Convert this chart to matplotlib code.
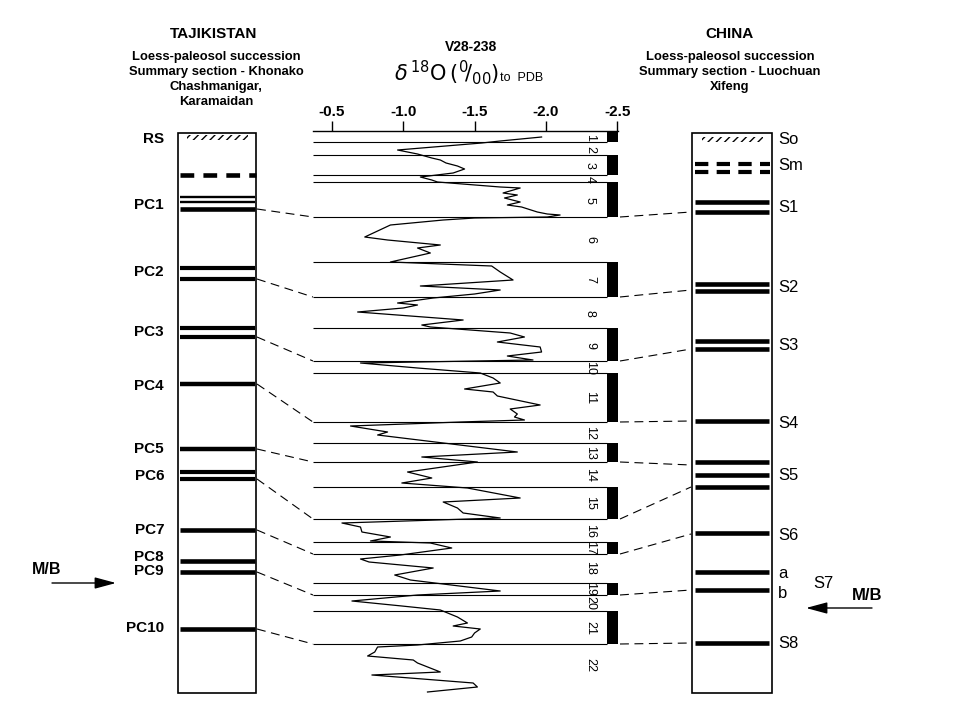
import matplotlib
matplotlib.use('Agg')
import matplotlib.pyplot as plt
from matplotlib.patches import Rectangle

plt.rcParams['font.family'] = ['Liberation Sans', 'DejaVu Sans']
plt.rcParams['hatch.linewidth'] = 1.0

# V28-238 oxygen isotope record (depth in chart units, delta 18O per mil)
d18o_depth = [137, 141, 143, 150, 154, 158, 160, 163, 166, 169, 173, 177, 180, 182,
              187, 188, 193, 195, 198, 202, 205, 207, 212, 214, 215, 217, 218, 220,
              225, 237, 240, 245, 248, 253, 262, 266, 272, 280, 286, 290, 294, 298,
              303, 305, 308, 312, 320, 325, 327, 333, 337, 342, 347, 352, 356, 360,
              363, 368, 373, 378, 383, 389, 392, 396, 405, 409, 414, 417, 420, 422,
              426, 432, 435, 452, 457, 462, 472, 478, 483, 488, 498, 502, 508, 513,
              518, 523, 527, 532, 537, 541, 543, 548, 555, 559, 562, 568, 575, 580,
              591, 595, 601, 606, 610, 617, 623, 626, 629, 633, 637, 641, 645, 647,
              652, 656, 660, 663, 672, 675, 683, 687, 692]
d18o_value = [-1.97, -1.68, -1.55, -0.96, -1.10, -1.20, -1.26, -1.30, -1.38, -1.43, -1.35, -1.12, -1.20, -1.24,
              -1.68, -1.82, -1.70, -1.80, -1.71, -1.82, -1.73, -1.83, -1.94, -2.01, -2.10, -2.01, -1.50, -1.28,
              -0.91, -0.73, -0.89, -1.26, -1.10, -1.19, -0.91, -1.62, -1.68, -1.77, -1.12, -1.68, -1.50, -1.21,
              -0.96, -1.10, -1.00, -0.68, -1.42, -1.13, -1.19, -1.75, -1.85, -1.66, -1.96, -1.97, -1.73, -1.91,
              -0.70, -1.10, -1.54, -1.63, -1.68, -1.43, -1.63, -1.66, -1.96, -1.75, -1.80, -1.78, -1.85, -1.40,
              -0.63, -0.89, -0.82, -1.80, -1.13, -1.52, -1.03, -1.20, -0.99, -1.45, -1.82, -1.28, -1.38, -1.42,
              -1.68, -0.57, -0.70, -0.71, -0.91, -0.77, -1.19, -1.34, -0.98, -0.70, -0.76, -1.21, -0.94, -1.05,
              -1.68, -1.10, -0.64, -0.99, -1.26, -1.38, -1.45, -1.35, -1.54, -1.50, -1.48, -1.40, -1.10, -0.82,
              -0.80, -0.75, -1.07, -1.10, -1.26, -0.78, -1.49, -1.52, -1.17]

# marine isotope stages
stage_bounds = [142, 155, 175, 182, 217, 262, 297, 328, 361, 373, 422,
                443, 462, 487, 519, 542, 554, 583, 595, 611, 644]
stage_names = [str(i) for i in range(1, 23)]
stage_label_depth = [137, 149, 165, 179, 200, 240, 280, 313, 345, 368, 398,
                     433, 453, 475, 503, 531, 548, 568, 589, 603, 628, 665]
warm_top = [132, 155, 182, 262, 328, 373, 443, 487, 542, 583, 611]
warm_bottom = [142, 175, 217, 297, 361, 422, 462, 519, 554, 595, 644]

# Tajikistan section
tj_labels = ['RS', 'PC1', 'PC2', 'PC3', 'PC4', 'PC5', 'PC6', 'PC7', 'PC8', 'PC9', 'PC10']
tj_label_depth = [139, 205, 272, 332, 386, 449, 476, 530, 557, 571, 628]
tj_soils = [197, 202, 209, 268, 279, 328, 337, 384, 449, 472, 479, 530, 561, 572, 629]
tj_soil_lw = [1.7, 1.7, 3.3, 3.0, 3.0, 3.0, 3.0, 3.2, 3.2, 3.0, 3.0, 3.3, 3.3, 3.3, 3.3]
tj_weak_soil = 175
tj_links = [(209, 217), (279, 297), (337, 361), (384, 422), (449, 462),
            (479, 519), (530, 554), (572, 595), (629, 644)]

# China section
cn_labels = ['So', 'Sm', 'S1', 'S2', 'S3', 'S4', 'S5', 'S6', 'a', 'b', 'S8']
cn_label_depth = [140, 165, 208, 287, 345, 423, 476, 535, 573, 593, 643]
cn_soils = [202, 212, 284, 291, 341, 349, 421, 462, 475, 487, 533, 572, 590, 643]
cn_weak_soils = [164, 172]
cn_links = [(217, 212), (297, 290), (361, 349), (422, 421), (462, 465),
            (519, 487), (554, 534), (595, 590), (644, 643)]

fig = plt.figure(figsize=(9.6, 7.2), dpi=100)
ax = fig.add_axes([0, 0, 1, 1])
ax.set_xlim(0, 960)
ax.set_ylim(720, 0)
ax.axis('off')

# titles
ax.text(214, 34, 'TAJIKISTAN', ha='center', va='center', fontsize=11, fontweight='bold')
ax.text(216, 51, 'Loess-paleosol succession\nSummary section - Khonako\nChashmanigar,\nKaramaidan',
        ha='center', va='top', fontsize=9.4, fontweight='bold', linespacing=1.35)
ax.text(730, 34, 'CHINA', ha='center', va='center', fontsize=11, fontweight='bold')
ax.text(730, 51, 'Loess-paleosol succession\nSummary section - Luochuan\nXifeng',
        ha='center', va='top', fontsize=9.4, fontweight='bold', linespacing=1.35)
ax.text(471, 47, 'V28-238', ha='center', va='center', fontsize=10, fontweight='bold')
ax.text(394, 81, r'$\delta^{\,18}\mathrm{O}\,(^{0}\!/_{00})$', ha='left', va='baseline', fontsize=15)
ax.text(500, 81, 'to  PDB', ha='left', va='baseline', fontsize=9)

# columns
for x0, w in [(178, 78), (692, 80)]:
    ax.add_patch(Rectangle((x0, 133), w, 560, fill=False, lw=1.2, ec='black'))
ax.add_patch(Rectangle((187, 135), 61, 5, fill=False, lw=0, ec='black', hatch='////'))
ax.add_patch(Rectangle((702, 137), 61, 5, fill=False, lw=0, ec='black', hatch='////'))

ax.hlines(tj_soils, 180, 255, colors='black', linewidths=tj_soil_lw)
ax.hlines(tj_weak_soil, 180, 256, colors='black', linewidths=3.3, linestyles=(0, (3.0, 2.0)))
ax.hlines(cn_soils, 695, 769, colors='black', linewidths=3.3)
ax.hlines(cn_weak_soils, 695, 770, colors='black', linewidths=3.0, linestyles=(0, (3.2, 2.0)))

for lab, y in zip(tj_labels, tj_label_depth):
    ax.text(164, y, lab, ha='right', va='center', fontsize=11, fontweight='bold')
for lab, y in zip(cn_labels, cn_label_depth):
    ax.text(778, y, lab, ha='left', va='center', fontsize=12)
ax.text(823, 583, 'S7', ha='center', va='center', fontsize=12)

# correlation lines
for a, b in tj_links:
    ax.plot([257, 313], [a, b], color='black', lw=0.8, ls=(0, (8, 5)))
for a, b in cn_links:
    ax.plot([620, 691], [a, b], color='black', lw=0.8, ls=(0, (8, 5)))

# Matuyama/Brunhes boundary
ax.text(47, 569, 'M/B', ha='center', va='center', fontsize=11.5, fontweight='bold')
ax.annotate('', xy=(116, 583), xytext=(52, 583),
            arrowprops=dict(arrowstyle='-|>,head_length=1.3,head_width=0.35',
                            color='black', lw=1, mutation_scale=10, shrinkA=0, shrinkB=0))
ax.text(867, 595, 'M/B', ha='center', va='center', fontsize=12, fontweight='bold')
ax.annotate('', xy=(806, 608), xytext=(872, 608),
            arrowprops=dict(arrowstyle='-|>,head_length=1.3,head_width=0.35',
                            color='black', lw=1, mutation_scale=10, shrinkA=0, shrinkB=0))

# isotope curve panel
cax = fig.add_axes([313 / 960, 0, 305 / 960, 1 - 131 / 720])
cax.patch.set_visible(False)
cax.set_xlim(-0.367, -2.506)
cax.set_ylim(720, 131)
for side in ['left', 'right', 'bottom']:
    cax.spines[side].set_visible(False)
cax.spines['top'].set_linewidth(1)
cax.xaxis.tick_top()
cax.set_xticks([-0.5, -1.0, -1.5, -2.0, -2.5])
cax.set_xticklabels(['-0.5', '-1.0', '-1.5', '-2.0', '-2.5'], fontweight='bold')
cax.tick_params(axis='x', direction='out', length=7, width=1, pad=1.5, labelsize=11)
cax.set_yticks([])

cax.hlines(stage_bounds, -0.367, -2.428, colors='black', linewidths=0.8)
cax.barh(warm_top, -0.078, left=-2.428, height=[b - t for t, b in zip(warm_top, warm_bottom)],
         align='edge', color='black', clip_on=False)
cax.plot(d18o_value, d18o_depth, color='black', lw=0.9)
for name, y in zip(stage_names, stage_label_depth):
    cax.text(-2.309, y, name, rotation=-90, ha='center', va='center', fontsize=9)

fig.savefig('out.png', dpi=100)
